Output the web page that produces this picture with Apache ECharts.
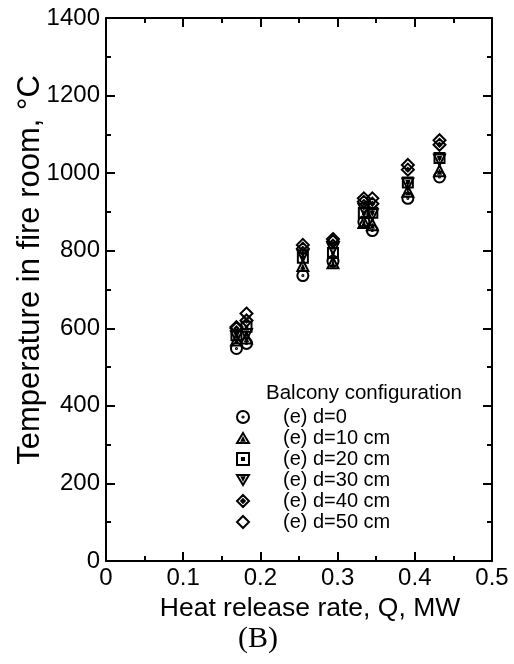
<!DOCTYPE html>
<html>
<head>
<meta charset="utf-8">
<script src="https://cdn.jsdelivr.net/npm/echarts@6/dist/echarts.min.js"></script>
<style>
  html, body { margin: 0; padding: 0; background: #fff; }
  #main { width: 514px; height: 664px; }
</style>
</head>
<body>
<div id="main"></div>
<script>
// heat release rate, MW
const xVals = [0.169, 0.182, 0.255, 0.294, 0.334, 0.345, 0.391, 0.432];
// temperature in fire room per balcony depth
const d0 = [548, 561, 736, 773, 875, 852, 935, 990];
const d10 = [570, 575, 762, 769, 873, 867, 953, 1006];
const d20 = [582, 604, 782, 794, 897, 898, 976, 1039];
const d30 = [578, 584, 787, 805, 907, 893, 972, 1034];
const d40 = [600, 620, 805, 824, 926, 921, 1009, 1073];
const d50 = [603, 638, 815, 830, 935, 935, 1021, 1085];
const seriesNames = ['(e) d=0', '(e) d=10 cm', '(e) d=20 cm', '(e) d=30 cm', '(e) d=40 cm', '(e) d=50 cm'];
const xTicks = [0, 0.1, 0.2, 0.3, 0.4, 0.5];
const yTicks = [0, 200, 400, 600, 800, 1000, 1200, 1400];

const symbols = [
  'path://M0,-10 A10,10 0 1,1 0,10 A10,10 0 1,1 0,-10 Z M0,-1 A1,1 0 1,1 0,1 A1,1 0 1,1 0,-1 Z',
  'path://M0,-10 L10,7 L-10,7 Z M0,-1 L2,3 L-2,3 Z',
  'path://M-9,-9 L9,-9 L9,9 L-9,9 Z M-1.5,-1.5 L1.5,-1.5 L1.5,1.5 L-1.5,1.5 Z',
  'path://M0,10 L10,-7 L-10,-7 Z M0,1 L2,-3 L-2,-3 Z',
  'path://M0,-10 L10,0 L0,10 L-10,0 Z M0,-3 L3,0 L0,3 L-3,0 Z',
  'path://M0,-10 L10,0 L0,10 L-10,0 Z'
];
const sizes = [11, 11, 10, 11, 12, 12];
const allData = [d0, d10, d20, d30, d40, d50];

const font = 'Liberation Sans, Arial, sans-serif';

const myChart = echarts.init(document.getElementById('main'));

const axisCommon = {
  axisLine: { show: true, onZero: false, lineStyle: { color: '#000', width: 2 } },
  axisTick: { show: true, inside: true, length: 9, lineStyle: { color: '#000', width: 2 } },
  minorTick: { show: true, splitNumber: 2, length: 5, lineStyle: { color: '#000', width: 2 } },
  splitLine: { show: false }
};

const option = {
  backgroundColor: '#fff',
  animation: false,
  title: {
    text: 'Balcony configuration',
    left: 266,
    top: 383,
    padding: 0,
    textStyle: { fontFamily: font, fontSize: 20.5, fontWeight: 'normal', color: '#000' }
  },
  legend: {
    orient: 'vertical',
    left: 236,
    top: 407,
    padding: 0,
    itemWidth: 12,
    itemHeight: 12,
    itemGap: 1,
    data: seriesNames,
    selectedMode: false,
    itemStyle: { color: 'rgba(255,255,255,0)', borderColor: '#000', borderWidth: 2, opacity: 1 },
    textStyle: { fontFamily: font, fontSize: 20, lineHeight: 20, color: '#000', padding: [0, 0, 0, 29] }
  },
  grid: { left: 106, right: 22, top: 18, bottom: 103 },
  xAxis: [
    Object.assign({
      type: 'value', position: 'bottom', min: 0, max: 0.5, interval: 0.1,
      axisLabel: { fontFamily: font, fontSize: 24, color: '#000', margin: 5,
        formatter: v => String(+v.toFixed(1)) }
    }, axisCommon),
    Object.assign({
      type: 'value', position: 'top', min: 0, max: 0.5, interval: 0.1,
      axisLabel: { show: false }
    }, axisCommon)
  ],
  yAxis: [
    Object.assign({
      type: 'value', position: 'left', min: 0, max: 1400, interval: 200,
      axisLabel: { fontFamily: font, fontSize: 24, color: '#000', margin: 6,
        formatter: v => String(v) }
    }, axisCommon),
    Object.assign({
      type: 'value', position: 'right', min: 0, max: 1400, interval: 200,
      axisLabel: { show: false }
    }, axisCommon)
  ],
  graphic: [{
    type: 'text',
    x: 310,
    y: 609,
    style: { text: 'Heat release rate, Q, MW', font: '26.5px "Liberation Sans", Arial, sans-serif',
      fill: '#000', align: 'center', verticalAlign: 'middle' }
  }, {
    type: 'text',
    x: 30,
    y: 270,
    rotation: Math.PI / 2,
    style: { text: 'Temperature in fire room, °C', font: '31px "Liberation Sans", Arial, sans-serif',
      fill: '#000', align: 'center', verticalAlign: 'middle' }
  }, {
    type: 'text',
    left: 238,
    top: 624,
    style: { text: '(B)', font: '30px "Liberation Serif", "Times New Roman", serif', fill: '#000' }
  }],
  series: seriesNames.map((name, i) => ({
    name: name,
    type: 'scatter',
    symbol: symbols[i],
    symbolSize: sizes[i],
    itemStyle: { color: 'rgba(255,255,255,0)', borderColor: '#000', borderWidth: 2, opacity: 1 },
    emphasis: { disabled: true },
    data: xVals.map((x, j) => [x, allData[i][j]])
  }))
};

myChart.setOption(option);
</script>
</body>
</html>
